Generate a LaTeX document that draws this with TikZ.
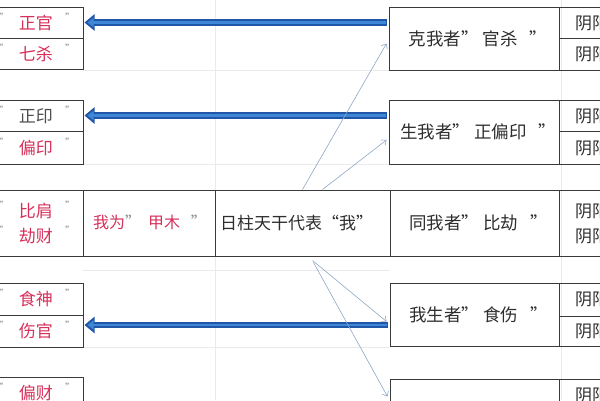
\documentclass[tikz,border=0pt]{standalone}
\usepackage{fontspec}
\setmainfont{Noto Sans CJK SC}
\usetikzlibrary{arrows.meta,fit}
\definecolor{txtred}{HTML}{D6305A}
\definecolor{txtdark}{HTML}{2E2E2E}
\definecolor{boxline}{HTML}{3A3A3A}
\definecolor{qgray}{HTML}{8A8A8A}
\definecolor{bluedark}{HTML}{1F56A8}
\definecolor{bluelight}{HTML}{3F86D6}
\definecolor{thinblue}{HTML}{8EA6C6}
\definecolor{grid}{HTML}{EAEAEA}
\begin{document}
\begin{tikzpicture}[x=1pt,y=-1pt,
  box/.style={draw=boxline, line width=1pt, inner sep=0pt},
  redtxt/.style={text=txtred, font=\fontsize{17pt}{19pt}\selectfont, inner sep=0pt},
  graytxt/.style={text=txtdark!85, font=\fontsize{17pt}{19pt}\selectfont, inner sep=0pt},
  darktxt/.style={text=txtdark, font=\fontsize{17.5pt}{20pt}\selectfont, inner sep=0pt},
  qt/.style={text=qgray, font=\fontsize{10pt}{12pt}\selectfont, inner sep=0pt},
  yin/.style={text=txtdark, font=\fontsize{17pt}{20pt}\selectfont, inner sep=0pt, anchor=west},
  bigarrow/.style={draw=bluedark, line width=6.5pt, -{Triangle[length=10pt,width=16pt]}},
  bigarrowin/.style={draw=bluelight, line width=2.8pt, -{Triangle[length=6pt,width=9pt]}},
  thin/.style={draw=thinblue, line width=0.6pt, -{Straight Barb[length=4pt,width=7pt]}}]
\useasboundingbox (0,0) rectangle (600,400);
% faint spreadsheet grid
\draw[grid, line width=0.6pt] (215,0) -- (215,400) (561,0) -- (561,400);
\draw[grid, line width=0.6pt] (83,70) -- (389,70) (83,164) -- (389,164) (83,347) -- (390,347) (83,270) -- (390,270);
% left boxes
\node[box, fit={(-10,7)(83,38)}] (La1) {};
\node[box, fit={(-10,38)(83,69)}] (La2) {};
\node[box, fit={(-10,100)(83,131)}] (Lb1) {};
\node[box, fit={(-10,131)(83,164)}] (Lb2) {};
\node[box, fit={(-10,283)(83,315)}] (Ld1) {};
\node[box, fit={(-10,315)(83,347)}] (Ld2) {};
\node[box, fit={(-10,377)(83,410)}] (Le1) {};
% middle row
\node[box, fit={(-10,190)(83,256)}] (Mc1) {};
\node[box, fit={(83,190)(215,256)}] (Mc2) {};
\node[box, fit={(215,190)(390,256)}] (C) {};
\node[box, fit={(390,190)(559,256)}] (Rc) {};
\node[box, fit={(559,190)(610,256)}] (Rc2) {};
% right boxes
\node[box, fit={(389,7)(559,70)}] (Ra) {};
\node[box, fit={(559,7)(610,38)}] (Ra1) {};
\node[box, fit={(559,38)(610,70)}] (Ra2) {};
\node[box, fit={(389,100)(559,164)}] (Rb) {};
\node[box, fit={(559,100)(610,131)}] (Rb1) {};
\node[box, fit={(559,131)(610,164)}] (Rb2) {};
\node[box, fit={(390,283)(559,346)}] (Rd) {};
\node[box, fit={(559,283)(610,316)}] (Rd1) {};
\node[box, fit={(559,316)(610,346)}] (Rd2) {};
\node[box, fit={(390,379)(559,410)}] (Re) {};
\node[box, fit={(559,379)(610,410)}] (Re1) {};
% left labels
\node[redtxt] (t1) at (36,23) {正官};
\node[redtxt] (t2) at (36,54) {七杀};
\node[graytxt] (t3) at (36,116) {正印};
\node[redtxt] (t4) at (36,148) {偏印};
\node[redtxt] (t5) at (36,211) {比肩};
\node[redtxt] (t6) at (36,236) {劫财};
\node[redtxt] (t7) at (36,299) {食神};
\node[redtxt] (t8) at (36,331) {伤官};
\node[redtxt] (t9) at (36,393) {偏财};
\foreach \yy in {17,48,110,142,205,230,293,325,387}{
  \node[qt] at (4,\yy) {”};
  \node[qt] at (70,\yy) {”};
}
% middle texts
\node[inner sep=0pt, font=\fontsize{16pt}{18pt}\selectfont] (wo) at (150,222)
  {\textcolor{txtred}{我为}\textcolor{qgray}{”}\ \ \textcolor{txtred}{甲木}\ \ \ \textcolor{qgray}{”}};
\node[darktxt, font=\fontsize{17pt}{20pt}\selectfont] (ct) at ([xshift=-6pt]C.center) {日柱天干代表“我”};
\node[darktxt] (ra) at ([xshift=4pt]Ra.center) {克我者”\ 官杀\ \ \ ”};
\node[darktxt] (rb) at ([xshift=4pt]Rb.center) {生我者”\ 正偏印\ \ \ ”};
\node[darktxt] (rc) at ([xshift=4pt]Rc.center) {同我者”\ 比劫\ \ \ ”};
\node[darktxt] (rd) at ([xshift=4pt]Rd.center) {我生者”\ 食伤\ \ \ ”};
% yin yang texts (cut by the picture's right edge, as in the reference)
\node[yin] at (575,23) {阴阳};
\node[yin] at (575,54) {阴阳};
\node[yin] at (575,116) {阴阳};
\node[yin] at (575,148) {阴阳};
\node[yin] at (575,211) {阴阳};
\node[yin] at (575,236) {阴阳};
\node[yin] at (575,299) {阴阳};
\node[yin] at (575,331) {阴阳};
\node[yin] at (575,395) {阴阳};
% blue arrows
\draw[bigarrow] ([xshift=-2pt]Ra.west |- La1.east) -- ([xshift=1pt]La1.east);
\draw[bigarrowin] ([xshift=-3pt]Ra.west |- La1.east) -- ([xshift=4pt]La1.east);
\draw[bigarrow] ([xshift=-2pt]Rb.west |- Lb1.east) -- ([xshift=1pt]Lb1.east);
\draw[bigarrowin] ([xshift=-3pt]Rb.west |- Lb1.east) -- ([xshift=4pt]Lb1.east);
\draw[bigarrow] ([xshift=-2pt,yshift=-10.5pt]Rd.west) -- ([xshift=1pt,yshift=6pt]Ld2.east);
\draw[bigarrowin] ([xshift=-3pt,yshift=-10.5pt]Rd.west) -- ([xshift=4pt,yshift=6pt]Ld2.east);
% thin arrows
\draw[thin] ([xshift=0pt]C.north) -- ([xshift=-2pt,yshift=-5pt]Ra.west);
\draw[thin] ([xshift=20pt]C.north) -- ([xshift=-2pt,yshift=-8pt]Rb.west);
\draw[thin] ([xshift=10pt,yshift=-4pt]C.south) -- ([xshift=-3pt,yshift=-7pt]Rd.west);
\draw[thin] ([xshift=11pt,yshift=-6pt]C.south) -- ([xshift=-2pt,yshift=-2pt]Re.west);
\end{tikzpicture}
\end{document}
